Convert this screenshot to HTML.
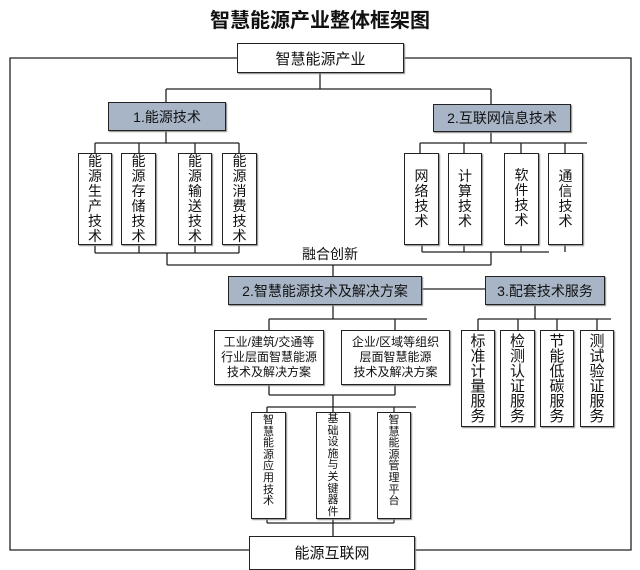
<!DOCTYPE html>
<html><head><meta charset="utf-8"><style>
body{margin:0;width:640px;height:565px;background:#fff;position:relative;overflow:hidden;font-family:"Liberation Sans","Noto Sans CJK SC",sans-serif;color:#111}
.b{position:absolute;box-sizing:border-box;border:1.5px solid #222;background:#fff;display:flex;align-items:center;justify-content:center;text-align:center;box-shadow:1px 1px 1px #888}
.g{background:#a8b5c6;font-size:14px}
.v{flex-direction:column;font-size:14px;line-height:15px}
.s{font-size:12px;line-height:15px}
.vs{flex-direction:column;font-size:11px;line-height:11.6px;justify-content:flex-start;padding-top:2px}
.t{position:absolute;white-space:nowrap}
</style></head><body>
<svg width="640" height="565" style="position:absolute;left:0;top:0" fill="none" stroke="#222" stroke-width="1.3">
<path d="M237 58H10V550H249M415 550H631V58H404"/>
<path d="M320 73V89M166 89H491M166 89V102M491 89V104"/>
<path d="M166 131V143M95 143H239M95 143V153M139 143V153M195 143V153M239 143V153"/>
<path d="M491 132V143M420 143H587M420 143V153M464 143V153M521 143V153M565 143V153"/>
<path d="M95 245V253M139 245V253M195 245V253M239 245V253M95 253H239M167 253V265M167 265H491"/>
<path d="M422 245V252M464 245V252M521 245V252M565 245V252M422 252H549M491 252V265M333 265V276"/>
<path d="M422 289H485"/>
<path d="M333 305V319M269 319H427M269 319V330M395 319V330"/>
<path d="M269 385V395M395 385V395M269 395H395M333 395V407M267 407H416M267 407V412M333 407V412M394 407V412"/>
<path d="M267 519V523M394 519V523M267 523H394M333 519V536"/>
<path d="M535 305V319M478 319H611M478 319V330M518 319V330M557 319V330M597 319V330"/>
</svg>
<div class="t" style="left:0;width:640px;text-align:center;top:4px;font-size:20px;font-weight:bold">智慧能源产业整体框架图</div>
<div class="b" style="left:237px;top:43px;width:167px;height:30px;font-size:15px">智慧能源产业</div>
<div class="b g" style="left:108px;top:102px;width:118px;height:29px">1.能源技术</div>
<div class="b g" style="left:433px;top:104px;width:138px;height:28px">2.互联网信息技术</div>
<div class="b v" style="left:78px;top:153px;width:34px;height:92px">能<br>源<br>生<br>产<br>技<br>术</div>
<div class="b v" style="left:121px;top:153px;width:35px;height:92px">能<br>源<br>存<br>储<br>技<br>术</div>
<div class="b v" style="left:178px;top:153px;width:34px;height:92px">能<br>源<br>输<br>送<br>技<br>术</div>
<div class="b v" style="left:222px;top:153px;width:35px;height:92px">能<br>源<br>消<br>费<br>技<br>术</div>
<div class="b v" style="left:404px;top:153px;width:35px;height:92px">网<br>络<br>技<br>术</div>
<div class="b v" style="left:448px;top:153px;width:34px;height:92px">计<br>算<br>技<br>术</div>
<div class="b v" style="left:504px;top:153px;width:35px;height:92px;justify-content:flex-start;padding-top:14px">软<br>件<br>技<br>术</div>
<div class="b v" style="left:548px;top:153px;width:35px;height:92px">通<br>信<br>技<br>术</div>
<div class="t" style="left:300px;top:244px;font-size:14px;background:#fff;padding:0 2px">融合创新</div>
<div class="b g" style="left:228px;top:276px;width:194px;height:29px">2.智慧能源技术及解决方案</div>
<div class="b g" style="left:485px;top:276px;width:120px;height:29px">3.配套技术服务</div>
<div class="b s" style="left:214px;top:330px;width:110px;height:55px">工业/建筑/交通等<br>行业层面智慧能源<br>技术及解决方案</div>
<div class="b s" style="left:341px;top:330px;width:109px;height:55px">企业/区域等组织<br>层面智慧能源<br>技术及解决方案</div>
<div class="b vs" style="left:251px;top:412px;width:35px;height:107px">智<br>慧<br>能<br>源<br>应<br>用<br>技<br>术</div>
<div class="b vs" style="left:316px;top:412px;width:34px;height:107px;padding-top:1px">基<br>础<br>设<br>施<br>与<br>关<br>键<br>器<br>件</div>
<div class="b vs" style="left:377px;top:412px;width:34px;height:107px">智<br>慧<br>能<br>源<br>管<br>理<br>平<br>台</div>
<div class="b v" style="left:461px;top:330px;width:34px;height:97px;font-size:15px">标<br>准<br>计<br>量<br>服<br>务</div>
<div class="b v" style="left:500px;top:330px;width:35px;height:97px;font-size:15px">检<br>测<br>认<br>证<br>服<br>务</div>
<div class="b v" style="left:540px;top:330px;width:34px;height:97px;font-size:15px">节<br>能<br>低<br>碳<br>服<br>务</div>
<div class="b v" style="left:580px;top:330px;width:34px;height:97px;font-size:15px">测<br>试<br>验<br>证<br>服<br>务</div>
<div class="b" style="left:249px;top:536px;width:166px;height:34px;font-size:15px;align-items:flex-start;padding-top:5px">能源互联网</div>
</body></html>
